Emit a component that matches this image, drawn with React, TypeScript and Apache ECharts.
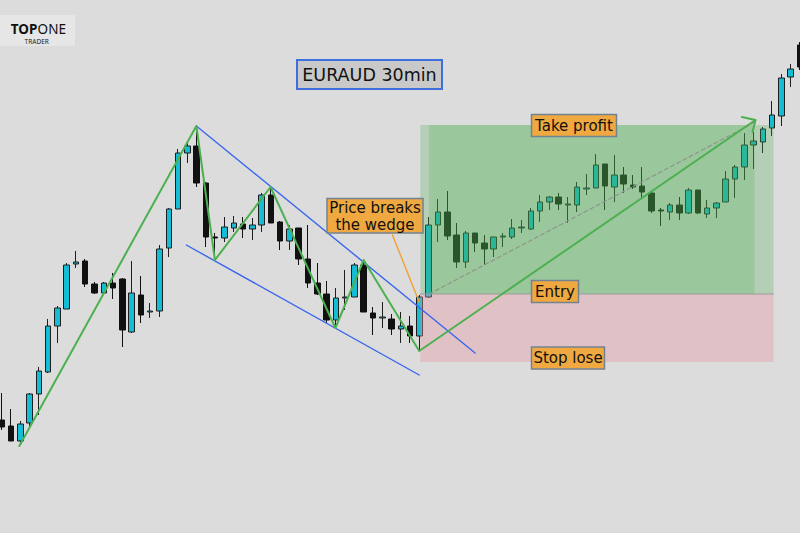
import React, { useEffect, useRef } from "react";
import * as echarts from "echarts";

// 30-minute bars (price levels, arbitrary units)
const times: string[] = [];
for (let i = 0; i < 87; i++) {
  const m = i * 30;
  const h = Math.floor(m / 60) % 24;
  const d = 10 + Math.floor(m / 1440);
  times.push(`05-${d} ${String(h).padStart(2, "0")}:${m % 60 === 0 ? "00" : "30"}`);
}

const opens = [80, 74, 59, 77, 106, 128, 174, 191, 236, 239, 216, 207, 217, 221, 168, 205, 188, 189, 252, 291,
  347, 354, 317, 263, 262, 272, 276, 271, 275, 305, 278, 259, 272, 241, 217, 206, 180, 202, 203, 235,
  187, 182, 181, 171, 174, 164, 203, 275, 288, 265, 238, 267, 257, 251, 263, 263, 272, 271, 289, 298,
  303, 295, 295, 311, 312, 336, 313, 325, 315, 314, 307, 290, 288, 295, 287, 310, 286, 292, 298, 321,
  333, 355, 358, 372, 384, 423, 455];
const closes = [73, 59, 76, 106, 129, 174, 192, 235, 238, 216, 207, 217, 212, 170, 207, 185, 189, 251, 291, 347,
  354, 317, 263, 262, 273, 277, 271, 275, 305, 277, 259, 271, 241, 217, 206, 180, 202, 203, 235, 188,
  182, 183, 171, 174, 164, 203, 275, 288, 264, 238, 267, 257, 251, 263, 264, 272, 273, 289, 298, 303,
  296, 296, 313, 312, 335, 314, 325, 316, 313, 308, 289, 289, 295, 287, 310, 287, 292, 297, 321, 333,
  355, 359, 371, 385, 422, 431, 433];
const lows = [70, 59, 57, 73, 85, 127, 157, 191, 232, 213, 206, 206, 201, 153, 167, 177, 182, 183, 243, 291,
  337, 313, 253, 242, 258, 268, 262, 260, 268, 277, 250, 250, 235, 212, 205, 177, 173, 190, 203, 188,
  165, 172, 165, 157, 157, 150, 202, 258, 260, 232, 232, 248, 235, 243, 253, 261, 267, 270, 278, 290,
  290, 277, 288, 305, 312, 290, 298, 307, 311, 301, 287, 274, 280, 280, 286, 286, 282, 282, 298, 302,
  320, 331, 347, 364, 374, 413, 430];
const highs = [107, 91, 79, 107, 133, 181, 194, 237, 249, 241, 218, 218, 227, 222, 239, 224, 197, 255, 292, 351,
  358, 373, 318, 267, 283, 284, 283, 282, 307, 313, 279, 275, 272, 275, 237, 219, 212, 230, 237, 240,
  193, 198, 186, 188, 184, 205, 283, 301, 309, 277, 269, 267, 265, 263, 267, 281, 280, 292, 305, 304,
  307, 303, 318, 326, 346, 336, 345, 333, 325, 333, 308, 292, 297, 303, 312, 310, 300, 298, 329, 335,
  367, 368, 373, 399, 426, 436, 458];

// Drawn analysis (x = bar index, y = price level)
const zigzag = [[1.9, 54], [20.97, 374], [22.97, 240], [28.96, 313], [35.95, 172], [38.99, 240], [44.98, 149], [81.2, 380]];
const arrowHead = [[79.74, 383], [81.2, 380], [80.89, 368]];
const wedgeUpper = [[20.97, 374], [51.0, 147]];
const wedgeLower = [[19.89, 255], [44.98, 125]];
const pointer = [[42.1, 265], [44.98, 198]];
const targetPath = [[46.05, 206], [81.2, 378]];
const zoneX = [45.09, 83.15];
const zoneInnerX = [46.05, 81.1];
const takeProfit = 375;
const entry = 206;
const stopLoss = 138;

const FONT = '"DejaVu Sans", sans-serif';
const LOGO_FONT = '"Noto Sans", sans-serif';

export default function App() {
  const ref = useRef<HTMLDivElement>(null);
  useEffect(() => {
    const chart = echarts.init(ref.current!, null, { renderer: "svg" });
    const candleData = opens.map((o, i) => [o, closes[i], lows[i], highs[i]]);
    const seg = (data: number[][], color: string, width: number, z: number, type: any = "solid") => ({
      type: "line",
      xAxisIndex: 1,
      yAxisIndex: 0,
      data,
      symbol: "none",
      silent: true,
      z,
      lineStyle: { color, width, type, cap: "round", join: "round" },
    });
    const txt = (text: string, x: number, y: number, size: number, opts: any = {}) => ({
      type: "text",
      x,
      y,
      z: 101,
      style: {
        text,
        font: `${opts.weight || "normal"} ${size}px ${opts.family || FONT}`,
        fill: opts.fill || "#111",
        align: opts.align || "center",
        textAlign: opts.align || "center",
        verticalAlign: "middle",
        textVerticalAlign: "middle",
        lineHeight: opts.lineHeight || size,
      },
    });
    const box = (x: number, y: number, w: number, h: number, fill: string, stroke: string, lw: number) => ({
      type: "rect",
      z: 100,
      shape: { x, y, width: w, height: h },
      style: { fill, stroke, lineWidth: lw },
    });
    const orange = "#f0a840";
    const edge = "#718293";

    chart.setOption({
      animation: false,
      backgroundColor: "#dcdcdc",
      grid: { left: 1.7, right: -1.5, top: 0, bottom: 33 },
      xAxis: [
        { type: "category", data: times, boundaryGap: false, show: false },
        { type: "value", min: 0, max: 86, show: false },
      ],
      yAxis: { type: "value", min: 0, max: 500, show: false },
      series: [
        {
          type: "candlestick",
          data: candleData,
          barWidth: 6,
          z: 2,
          itemStyle: {
            color: "#14bcd4",
            color0: "#111111",
            borderColor: "#1e1e1e",
            borderColor0: "#111111",
            borderWidth: 1,
          },
        },
        {
          ...seg([[zoneX[0], entry], [zoneX[1], entry]], "#9a9a9a", 1, 4),
          markArea: {
            silent: true,
            z: 3,
            data: [
              [{ xAxis: zoneX[0], yAxis: takeProfit, itemStyle: { color: "rgba(76,175,80,0.27)" } }, { xAxis: zoneX[1], yAxis: entry }],
              [{ xAxis: zoneInnerX[0], yAxis: takeProfit, itemStyle: { color: "rgba(76,175,80,0.24)" } }, { xAxis: zoneInnerX[1], yAxis: entry }],
              [{ xAxis: zoneX[0], yAxis: entry, itemStyle: { color: "rgba(232,150,160,0.36)" } }, { xAxis: zoneX[1], yAxis: stopLoss }],
            ],
          },
        },
        seg(targetPath, "#8c968c", 1.2, 4, [4, 3]),
        seg(wedgeUpper, "#3a66ee", 1.4, 5),
        seg(wedgeLower, "#3a66ee", 1.4, 5),
        seg(zigzag, "#4cb050", 2, 6),
        seg(arrowHead, "#4cb050", 2, 6),
        seg(pointer, "#f0a030", 1.4, 6),
      ],
      graphic: {
        elements: [
          box(0, 15, 75, 31, "#e6e6e6", "none", 0),
          txt("TOP", 37.3, 28.6, 13.5, { family: LOGO_FONT, weight: "bold", align: "right", lineHeight: 11 }),
          txt("ONE", 37.6, 28.6, 13.5, { family: LOGO_FONT, align: "left", lineHeight: 11 }),
          txt("TRADER", 36.7, 41.6, 6.5, { family: LOGO_FONT, fill: "#222", lineHeight: 6 }),
          box(297, 60, 145, 29, "#c9c9c9", "#3f6fdc", 2),
          txt("EURAUD 30min", 369.5, 74.5, 17.5),
          box(327, 198.5, 96, 34.5, orange, edge, 1.5),
          txt("Price breaks\nthe wedge", 375, 216.5, 15, { lineHeight: 16.5 }),
          box(531.5, 114.5, 85, 22, orange, edge, 1.5),
          txt("Take profit", 574, 125.5, 15),
          box(531.5, 280.5, 47, 22, orange, edge, 1.5),
          txt("Entry", 555, 291.5, 15),
          box(531.5, 347, 73, 22, orange, edge, 1.5),
          txt("Stop lose", 568, 358, 15),
        ],
      },
    });
    return () => chart.dispose();
  }, []);
  return (
    <div
      ref={ref}
      style={{ position: "fixed", left: 0, top: 0, width: 800, height: 533, background: "#dcdcdc" }}
    />
  );
}
